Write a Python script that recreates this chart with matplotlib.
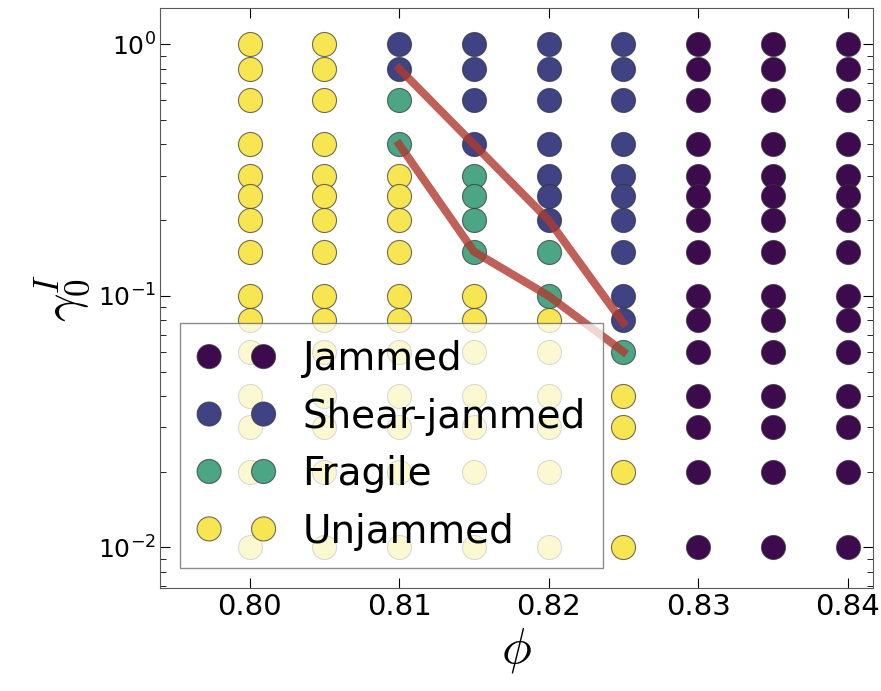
import matplotlib
matplotlib.use('Agg')
import matplotlib.pyplot as plt
import numpy as np

plt.rcParams['mathtext.fontset'] = 'cm'

# grid of state points
phi = [0.80, 0.805, 0.81, 0.815, 0.82, 0.825, 0.83, 0.835, 0.84]
gamma = [1.0, 0.8, 0.6, 0.4, 0.3, 0.25, 0.2, 0.15, 0.1, 0.08, 0.06, 0.04, 0.03, 0.02, 0.01]

# state per column, top to bottom: J=jammed, S=shear-jammed, F=fragile, U=unjammed
states = [
    "UUUUUUUUUUUUUUU",
    "UUUUUUUUUUUUUUU",
    "SSFFUUUUUUUUUUU",
    "SSSSFFFFUUUUUUU",
    "SSSSSSSFFUUUUUU",
    "SSSSSSSSSSFUUUU",
    "JJJJJJJJJJJJJJJ",
    "JJJJJJJJJJJJJJJ",
    "JJJJJJJJJJJJJJJ",
]

labels = {'J': 'Jammed', 'S': 'Shear-jammed', 'F': 'Fragile', 'U': 'Unjammed'}
colors = {'J': '#3d0a4e', 'S': '#3f4383', 'F': '#4ca584', 'U': '#f7e651'}

# boundary lines
upper_phi = [0.81, 0.815, 0.82, 0.825]
upper_gamma = [0.8, 0.4, 0.2, 0.078]
lower_phi = [0.81, 0.815, 0.82, 0.825]
lower_gamma = [0.4, 0.15, 0.1, 0.06]

fig = plt.figure(figsize=(8.81, 6.91), dpi=100)
ax = fig.add_axes([0.1816, 0.149, 0.8094, 0.839])

for key in ['J', 'S', 'F', 'U']:
    xs, ys = [], []
    for i, col in enumerate(states):
        for j, s in enumerate(col):
            if s == key:
                xs.append(phi[i])
                ys.append(gamma[j])
    ax.scatter(xs, ys, s=300, c=colors[key], edgecolors=(0.2, 0.2, 0.2, 0.7),
               linewidths=0.8, label=labels[key], zorder=2)

ax.plot(upper_phi, upper_gamma, color='#b03a2e', alpha=0.8, lw=5.8, zorder=3)
ax.plot(lower_phi, lower_gamma, color='#b03a2e', alpha=0.8, lw=5.8, zorder=3)

ax.set_yscale('log')
ax.set_xlim(0.794, 0.8417)
ax.set_ylim(0.0069, 1.39)
ax.set_xticks([0.80, 0.81, 0.82, 0.83, 0.84])
ax.set_xticklabels(['0.80', '0.81', '0.82', '0.83', '0.84'], fontsize=21)
ax.tick_params(axis='y', labelsize=18, pad=3)
ax.tick_params(which='both', direction='in', top=True, right=True)
ax.tick_params(which='major', length=7)
ax.tick_params(which='minor', length=4)
for sp in ax.spines.values():
    sp.set_color('0.35')

ax.set_xlabel(r'$\phi$', fontsize=36)
ax.set_ylabel(r'$\gamma_0^I$', fontsize=36)

leg = ax.legend(loc='lower left', bbox_to_anchor=(0.028, 0.0345), borderaxespad=0,
                scatterpoints=2, scatteryoffsets=[0.5], fontsize=28, framealpha=0.75,
                fancybox=False, labelspacing=0.5, handlelength=2.0,
                handletextpad=0.7, borderpad=0.45)
leg.get_frame().set_edgecolor('0.4')
leg.set_zorder(5)

fig.savefig('out.png', dpi=100)
